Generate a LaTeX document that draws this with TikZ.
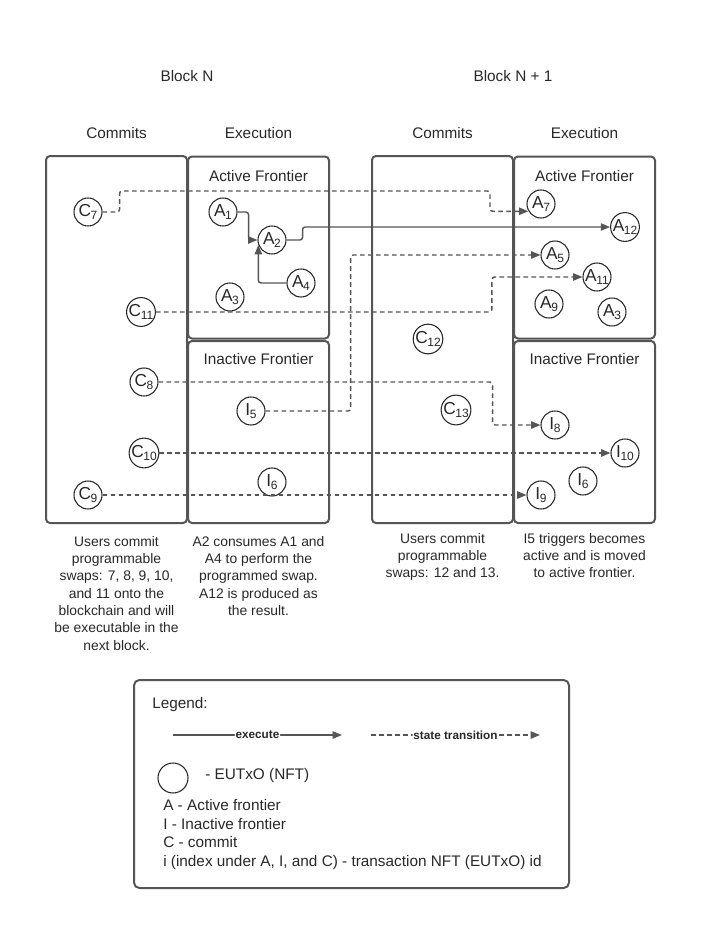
\documentclass[tikz,border=0pt]{standalone}
\usepackage{fontspec}
\setmainfont{Liberation Sans}
\usepackage{tikz}
\usetikzlibrary{arrows.meta, positioning}
\definecolor{inkline}{RGB}{85, 85, 85}
\definecolor{inktext}{RGB}{40, 40, 40}
\tikzset{
    frame/.style  ={draw=inkline, line width=1.5pt, rounded corners=3pt,
                    minimum width=105.75pt, inner sep=0pt},
    colbox/.style ={frame, minimum height=275.25pt},
    halfbox/.style={frame, minimum height=136.5pt},
    nft/.style    ={draw=inktext, line width=0.8pt, circle, fill=white,
                    minimum size=21pt, inner sep=0pt, text=inktext,
                    font=\fontsize{13}{14}\selectfont},
    hd/.style     ={inner sep=0pt, text=inktext, font=\fontsize{11.5}{13}\selectfont},
    note/.style   ={inner sep=0pt, align=center, anchor=north, text=inktext,
                    font=\fontsize{10.4}{13}\selectfont},
    ex/.style     ={-{Triangle[length=7pt, width=5.5pt]}, line width=1.1pt,
                    draw=inkline, rounded corners=2pt},
    stt/.style    ={ex, dash pattern=on 3.5pt off 2.5pt},
    keylbl/.style ={fill=white, inner sep=0.6pt, text=inktext,
                    font=\fontsize{8.8}{10}\selectfont\bfseries}
}
\newcommand{\nft}[2]{#1\kern-0.3pt\raisebox{-0.35ex}{\fontsize{9}{9}\selectfont #2}}

\begin{document}
\begin{tikzpicture}[x=0.75pt, y=-0.75pt]
  \useasboundingbox (0,0) rectangle (700,946);

  % headings
  \node[hd] (blkN)  at (187, 76) {Block N};
  \node[hd] (blkN1) at (513, 76) {Block N + 1};
  \node[hd] (comN)  at (116.5, 133) {Commits};
  \node[hd] (exeN)  at (258.5, 133) {Execution};
  \node[hd] (comN1) at (442.5, 133) {Commits};
  \node[hd] (exeN1) at (584.5, 133) {Execution};

  % block N frames
  \node[colbox]  (cboxN) at (116.5, 339.5) {};
  \node[halfbox] (aboxN) at (258.5, 247.5) {};
  \node[halfbox] (iboxN) at (258.5, 432) {};
  \node[hd] at (258.5, 176) {Active Frontier};
  \node[hd] at (258.5, 359) {Inactive Frontier};

  % block N+1 frames
  \node[colbox]  (cboxN1) at (442.5, 339.5) {};
  \node[halfbox] (aboxN1) at (584.5, 247.5) {};
  \node[halfbox] (iboxN1) at (584.5, 432) {};
  \node[hd] at (584.5, 176) {Active Frontier};
  \node[hd] at (584.5, 359) {Inactive Frontier};

  % block N contents
  \node[nft] (c7)  at ( 88, 212) {\nft{C}{7}};
  \node[nft] (c11) at (141, 312) {\nft{C}{11}};
  \node[nft] (c8)  at (144, 382) {\nft{C}{8}};
  \node[nft] (c10) at (144, 453) {\nft{C}{10}};
  \node[nft] (c9)  at ( 88, 495) {\nft{C}{9}};
  \node[nft] (a1)  at (223, 212) {\nft{A}{1}};
  \node[nft] (a2)  at (272, 240) {\nft{A}{2}};
  \node[nft] (a4)  at (301, 283) {\nft{A}{4}};
  \node[nft] (a3)  at (230, 297) {\nft{A}{3}};
  \node[nft] (i5)  at (251, 411) {\nft{I}{5}};
  \node[nft] (i6)  at (272, 482) {\nft{I}{6}};

  % block N+1 contents
  \node[nft] (c12)   at (428, 339) {\nft{C}{12}};
  \node[nft] (c13)   at (456, 410) {\nft{C}{13}};
  \node[nft] (a7)    at (541, 204) {\nft{A}{7}};
  \node[nft] (a12)   at (625, 227) {\nft{A}{12}};
  \node[nft] (a5)    at (555, 255) {\nft{A}{5}};
  \node[nft] (a11)   at (597, 277) {\nft{A}{11}};
  \node[nft] (a9)    at (549, 304) {\nft{A}{9}};
  \node[nft] (a3nxt) at (612, 312) {\nft{A}{3}};
  \node[nft] (i8)    at (555, 425) {\nft{I}{8}};
  \node[nft] (i10)   at (625, 453) {\nft{I}{10}};
  \node[nft] (i6nxt) at (583, 481) {\nft{I}{6}};
  \node[nft] (i9)    at (541, 495) {\nft{I}{9}};

  % execution inside block N
  \draw[ex] (a1.east) -- ++(11,0) |- (a2.west);
  \draw[ex] (a4.west) -| (a2.200);
  \draw[ex] (a2.east) -- ++(16,0) |- (a12.west);

  % state transitions into block N+1
  \draw[stt] (c7.east)  -- ++(17,0) |- (490,191) |- (a7.210);
  \draw[stt] (c11.east) -- ++(336,0) |- (a11.west);
  \draw[stt] (i5.east)  -- ++(85,0) |- (a5.west);
  \draw[stt] (c8.east)  -- ++(334,0) |- (i8.west);
  \draw[stt] (c10.east) -- (i10.west);
  \draw[stt] (c9.east)  -- (i9.west);

  % notes under the columns
  \node[note] (noteC)  at (116.5, 536) {Users commit\\programmable\\swaps: 7, 8, 9, 10,\\and 11 onto the\\blockchain and will\\be executable in the\\next block.};
  \node[note] (noteE)  at (258.5, 536) {A2 consumes A1 and\\A4 to perform the\\programmed swap.\\A12 is produced as\\the result.};
  \node[note] (noteC1) at (442.5, 533) {Users commit\\programmable\\swaps: 12 and 13.};
  \node[note] (noteE1) at (584.5, 533) {I5 triggers becomes\\active and is moved\\to active frontier.};

  % legend
  \node[frame, minimum width=326.25pt, minimum height=156pt, rounded corners=4pt] (legend) at (351.5, 784) {};
  \node[hd, anchor=west] (lgtitle) at (152, 705) {Legend:};
  \coordinate (exS) at (173, 735);
  \coordinate (exE) at (342, 735);
  \coordinate (stS) at (371, 735);
  \coordinate (stE) at (540, 735);
  \draw[ex]  (exS) -- node[keylbl] {execute} (exE);
  \draw[stt] (stS) -- node[keylbl] {state transition} (stE);
  \node[nft, minimum size=22.5pt] (keyc) at (173, 778) {};
  \node[hd, anchor=west] (keyt) at (205, 776) {- EUTxO (NFT)};
  \node[hd, anchor=north west, align=left, font=\fontsize{11.5}{14}\selectfont] (keylist) at (163, 799)
       {A - Active frontier\\I - Inactive frontier\\C - commit\\i (index under A, I, and C) - transaction NFT (EUTxO) id};
\end{tikzpicture}
\end{document}
